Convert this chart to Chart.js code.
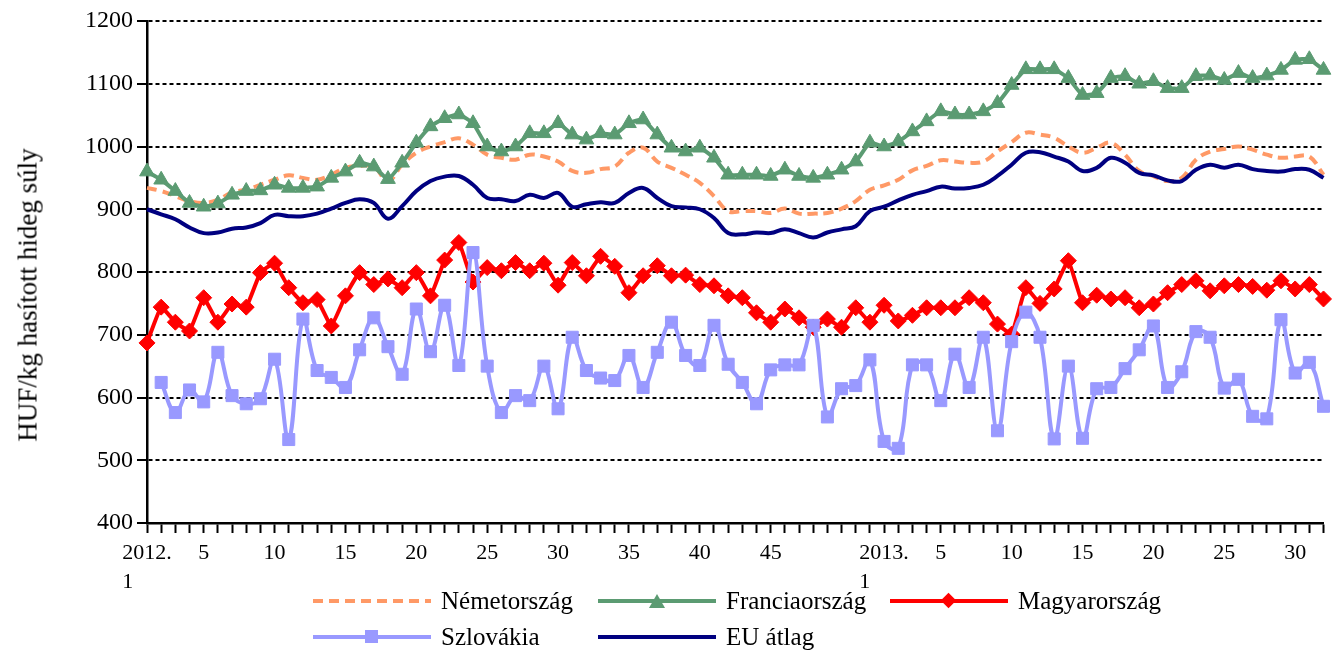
<!DOCTYPE html>
<html>
<head>
<meta charset="utf-8">
<script src="https://cdn.jsdelivr.net/npm/chart.js@4.4.1/dist/chart.umd.min.js"></script>
<style>
  html, body { margin: 0; padding: 0; background: #fff; }
  #wrap { position: relative; width: 1333px; height: 651px; overflow: hidden; }
  #chart { position: absolute; left: 0; top: 0; }
  #ytitle { position: absolute; left: 28px; top: 295px; transform: translate(-50%, -50%) rotate(-90deg);
            font-family: "Liberation Serif", serif; font-size: 27px; white-space: nowrap; color: #000; }
  .lg-item { position: absolute; height: 30px; }
  .lg-sample { position: absolute; left: 0; top: 13px; height: 4px; width: 118px; }
  .lg-text { position: absolute; left: 128px; top: 0; line-height: 30px; font-family: "Liberation Serif", serif;
             font-size: 25px; color: #000; white-space: nowrap; }
  .lg-marker { position: absolute; }
</style>
</head>
<body>
<div id="wrap">
  <canvas id="chart" width="1333" height="651"></canvas>
  <div id="ytitle">HUF/kg hasított hideg súly</div>
  <div id="legend"></div>
</div>
<script>
// ---------- categories ----------
const weeks2012 = [1,2,3,4,5,6,7,8,9,10,11,12,13,14,15,16,17,18,19,20,21,22,23,24,25,26,27,28,29,30,31,32,33,34,35,36,37,38,39,40,41,42,43,44,45,46,47,48,49,50,51,52];
const weeks2013 = [1,2,3,4,5,6,7,8,9,10,11,12,13,14,15,16,17,18,19,20,21,22,23,24,25,26,27,28,29,30,31,32];
const labelledWeeks2012 = [1,5,10,15,20,25,30,35,40,45];
const labelledWeeks2013 = [1,5,10,15,20,25,30];

// ---------- series (HUF/kg) ----------
const nemetorszag = [934,929,921,913,910,915,927,931,939,947,954,950,947,955,966,969,968,945,971,990,1000,1007,
  1013,1003,987,982,979,987,984,976,961,958,964,968,990,998,976,966,955,942,921,897,
  897,897,894,901,893,893,894,901,913,931,938,947,962,969,978,976,974,976,992,1007,1022,
  1019,1014,1000,990,998,1006,987,961,953,945,950,979,992,996,1000,995,987,982,984,984,955];
const franciaorszag = [960,947,929,910,904,909,923,929,930,939,934,934,936,950,960,974,968,948,974,1006,1032,1045,
  1051,1037,1000,992,1000,1021,1021,1037,1019,1011,1021,1019,1037,1043,1019,998,992,998,982,955,
  955,955,953,963,953,950,955,963,976,1006,1000,1008,1024,1040,1056,1051,1051,1056,1069,1098,1123,
  1123,1123,1109,1082,1085,1109,1112,1100,1104,1093,1093,1112,1113,1106,1117,1109,1113,1122,1138,1139,1122];
const magyarorszag = [687,744,720,706,759,720,749,744,799,814,775,751,756,714,762,799,780,789,775,799,762,819,
  847,784,807,802,815,802,814,779,815,794,825,809,767,794,810,794,795,780,778,762,
  759,735,720,741,727,712,725,712,743,720,747,722,731,743,743,743,759,751,717,701,775,
  750,773,818,751,763,757,759,743,749,767,780,786,770,778,780,777,771,786,773,780,757];
const szlovakia = [null,624,576,612,593,672,603,590,598,661,533,725,643,632,616,676,727,681,637,741,673,747,
  651,831,650,576,603,595,650,582,696,643,631,627,667,616,672,720,667,651,715,653,
  624,590,644,652,652,715,569,614,619,660,530,519,652,652,595,669,616,696,547,689,736,
  696,534,650,535,614,616,646,676,714,616,641,705,696,615,629,570,566,724,639,656,586];
const euAtlag = [900,892,884,871,862,863,869,871,878,891,889,889,893,901,910,916,910,885,905,929,945,952,
  953,939,918,916,913,923,918,926,904,908,911,910,926,934,918,905,903,900,886,862,
  860,863,862,868,862,855,863,868,873,897,904,914,923,929,936,933,934,939,953,971,990,
  991,984,976,961,966,982,974,958,954,946,945,963,971,966,971,964,961,960,964,963,950];

const seriesNames = ["Németország", "Franciaország", "Magyarország", "Szlovákia", "EU átlag"];
const yMin = 400, yMax = 1200, yStep = 100;

// ---------- build ----------
const categories = [
  ...weeks2012.map(w => ({ year: 2012, week: w })),
  ...weeks2013.map(w => ({ year: 2013, week: w }))
];
const labels = categories.map(c => c.year + '. ' + c.week);

const FONT = "'Liberation Serif', 'Times New Roman', serif";
const styles = [
  { color: '#FF9966', dash: [10, 6], point: false, tension: 0.4 },
  { color: '#5B9B72', dash: [], point: 'triangle', radius: 8.5, tension: 0.15 },
  { color: '#FF0000', dash: [], point: 'rectRot', radius: 8, tension: 0.1 },
  { color: '#9999FF', dash: [], point: 'rect', radius: 8.5, tension: 0.4 },
  { color: '#000080', dash: [], point: false, tension: 0.4 }
];
const values = [nemetorszag, franciaorszag, magyarorszag, szlovakia, euAtlag];

const datasets = values.map((v, i) => {
  const s = styles[i];
  return {
    label: seriesNames[i],
    data: v,
    borderColor: s.color,
    backgroundColor: s.color,
    borderWidth: 4,
    borderDash: s.dash,
    pointStyle: s.point || 'circle',
    pointRadius: s.point ? s.radius : 0,
    pointBorderWidth: 1,
    pointBorderColor: s.color,
    pointBackgroundColor: s.color,
    tension: s.tension,
    fill: false,
    clip: false,
    order: values.length - i
  };
});

new Chart(document.getElementById('chart'), {
  type: 'line',
  data: { labels, datasets },
  options: {
    responsive: false,
    animation: false,
    events: [],
    layout: { padding: { left: 0, right: 6, top: 21, bottom: 0 } },
    plugins: { legend: { display: false }, tooltip: { enabled: false } },
    scales: {
      x: {
        type: 'category',
        offset: false,
        afterFit: s => { s.height = 128; },
        border: { display: true, color: '#000', width: 2.5 },
        grid: { display: true, drawOnChartArea: false, drawTicks: true, tickLength: 10,
                tickColor: '#000', tickWidth: 2, offset: false },
        ticks: {
          autoSkip: false, maxRotation: 0, minRotation: 0, padding: 6,
          color: '#000', font: { family: FONT, size: 22, lineHeight: 1.3 },
          callback: (val, idx) => {
            const c = categories[idx];
            const list = c.year === 2012 ? labelledWeeks2012 : labelledWeeks2013;
            if (!list.includes(c.week)) return '';
            if (c.week === 1) return [c.year + '.', '1' + '\u00a0'.repeat(7)];
            return String(c.week);
          }
        }
      },
      y: {
        min: yMin, max: yMax,
        afterFit: s => { s.width = 147; },
        border: { display: true, color: '#000', width: 2.5, dash: [4, 3] },
        grid: { color: '#000', lineWidth: 2, drawTicks: true, tickLength: 10,
                tickColor: '#000', tickWidth: 2, tickBorderDash: [100, 0] },
        ticks: { stepSize: yStep, padding: 4, color: '#000', font: { family: FONT, size: 24 },
                 callback: v => String(v) },
        title: { display: false }
      }
    }
  }
});

// ---------- legend (HTML) ----------
const legendPos = [[313, 586], [598, 586], [890, 586], [313, 622], [598, 622]];
const legend = document.getElementById('legend');
seriesNames.forEach((name, i) => {
  const s = styles[i];
  const item = document.createElement('div');
  item.className = 'lg-item';
  item.style.left = legendPos[i][0] + 'px';
  item.style.top = legendPos[i][1] + 'px';
  const sample = document.createElement('div');
  sample.className = 'lg-sample';
  if (s.dash.length) {
    sample.style.background = `repeating-linear-gradient(90deg, ${s.color} 0 ${s.dash[0]}px, transparent ${s.dash[0]}px ${s.dash[0] + s.dash[1]}px)`;
  } else {
    sample.style.background = s.color;
  }
  item.appendChild(sample);
  if (s.point) {
    const m = document.createElement('div');
    m.className = 'lg-marker';
    if (s.point === 'triangle') {
      Object.assign(m.style, { width: 0, height: 0, left: '51px', top: '8px',
        borderLeft: '8px solid transparent', borderRight: '8px solid transparent',
        borderBottom: '14px solid ' + s.color });
    } else if (s.point === 'rectRot') {
      Object.assign(m.style, { width: '11px', height: '11px', left: '53px', top: '9px',
        background: s.color, transform: 'rotate(45deg)' });
    } else {
      Object.assign(m.style, { width: '13px', height: '13px', left: '52px', top: '8px',
        background: s.color });
    }
    item.appendChild(m);
  }
  const t = document.createElement('div');
  t.className = 'lg-text';
  t.textContent = name;
  item.appendChild(t);
  legend.appendChild(item);
});
</script>
</body>
</html>
